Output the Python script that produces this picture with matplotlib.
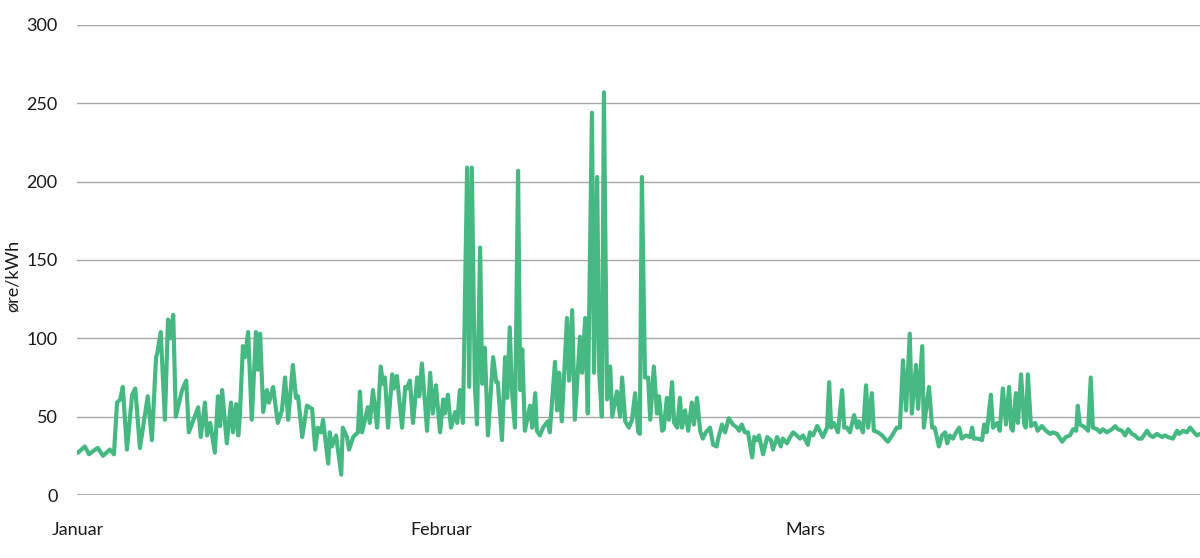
import matplotlib
matplotlib.use("Agg")
import matplotlib.pyplot as plt
import matplotlib.transforms as mtransforms

plt.rcParams['font.family'] = ['Lato', 'DejaVu Sans']

# hour of the quarter (0 = 1 January 00:00) and price in øre/kWh, turning points
hours = [
    0, 2, 15, 23, 35, 40, 50, 63, 71, 77, 83, 88, 96, 106, 112, 121, 136, 144, 152, 154,
    161, 169, 175, 179, 185, 190, 202, 210, 215, 233, 238, 246, 250, 256, 265, 271, 275, 279, 288, 296,
    300, 306, 310, 313, 319, 323, 329, 336, 344, 348, 352, 358, 365, 369, 377, 386, 394, 400, 406, 415,
    421, 425, 433, 442, 452, 458, 463, 469, 473, 483, 486, 490, 498, 508, 511, 519, 523, 531, 540, 544,
    548, 559, 563, 569, 577, 584, 588, 592, 598, 606, 609, 615, 625, 631, 634, 640, 646, 654, 658, 663,
    669, 673, 679, 684, 690, 698, 704, 707, 713, 719, 727, 731, 736, 742, 750, 754, 759, 765, 769, 775,
    779, 784, 790, 800, 806, 809, 817, 823, 827, 832, 836, 842, 848, 852, 856, 861, 871, 875, 881, 884,
    890, 896, 905, 909, 919, 923, 927, 932, 942, 946, 952, 957, 967, 971, 977, 982, 990, 994, 1000, 1004,
    1009, 1013, 1019, 1025, 1029, 1038, 1044, 1048, 1054, 1061, 1067, 1073, 1079, 1082, 1086, 1092, 1098, 1102, 1109, 1115,
    1119, 1125, 1128, 1134, 1138, 1144, 1148, 1154, 1159, 1163, 1169, 1175, 1182, 1186, 1192, 1198, 1203, 1209, 1217, 1223,
    1230, 1232, 1240, 1246, 1253, 1261, 1269, 1273, 1278, 1284, 1290, 1298, 1302, 1307, 1311, 1319, 1327, 1334, 1338, 1346,
    1353, 1357, 1365, 1371, 1377, 1384, 1390, 1396, 1405, 1409, 1415, 1423, 1428, 1434, 1442, 1446, 1450, 1455, 1463, 1471,
    1475, 1480, 1486, 1494, 1500, 1503, 1511, 1517, 1521, 1528, 1532, 1540, 1548, 1553, 1559, 1567, 1576, 1582, 1588, 1594,
    1601, 1605, 1613, 1617, 1625, 1628, 1638, 1644, 1649, 1657, 1663, 1669, 1673, 1678, 1684, 1690, 1696, 1701, 1709, 1717,
    1721, 1724, 1732, 1740, 1744, 1749, 1757, 1761, 1769, 1774, 1780, 1786, 1792, 1796, 1799, 1805, 1809, 1815, 1821, 1824,
    1828, 1834, 1842, 1847, 1855, 1863, 1871, 1876, 1884, 1894, 1901, 1909, 1915, 1921, 1924, 1928, 1934, 1938, 1944, 1949,
    1953, 1961, 1967, 1972, 1980, 1990, 1996, 2001, 2009, 2015, 2021, 2028, 2034, 2040, 2047, 2057, 2063, 2069, 2076, 2086,
    2092, 2097, 2107, 2115, 2119, 2126, 2134, 2140, 2145, 2153, 2159,
]
prices = [
    27, 27, 31, 26, 29, 30, 25, 29, 26, 59, 61, 69, 29, 64, 68, 30, 63, 35, 88, 90,
    104, 48, 112, 100, 115, 50, 67, 73, 40, 56, 37, 59, 38, 46, 27, 63, 44, 67, 33, 59,
    40, 58, 38, 50, 95, 88, 104, 48, 104, 80, 103, 53, 67, 59, 69, 46, 54, 75, 48, 83,
    62, 63, 37, 57, 55, 29, 43, 40, 48, 20, 40, 31, 38, 13, 43, 37, 29, 37, 40, 66,
    40, 56, 46, 67, 43, 82, 71, 75, 43, 77, 68, 76, 43, 69, 68, 73, 46, 75, 63, 84,
    59, 41, 78, 52, 70, 40, 61, 52, 64, 43, 53, 46, 67, 46, 209, 69, 209, 69, 45, 158,
    71, 94, 38, 88, 72, 72, 35, 88, 62, 107, 67, 43, 207, 67, 93, 41, 57, 43, 65, 41,
    38, 43, 47, 40, 85, 54, 78, 47, 113, 73, 118, 48, 101, 78, 113, 52, 244, 78, 203, 78,
    50, 257, 61, 82, 50, 66, 50, 75, 47, 43, 48, 65, 40, 39, 203, 75, 75, 48, 82, 52,
    63, 41, 42, 62, 48, 72, 46, 43, 62, 43, 54, 41, 59, 45, 62, 41, 36, 40, 43, 32,
    31, 35, 45, 40, 49, 45, 43, 41, 45, 40, 40, 24, 37, 35, 38, 26, 37, 35, 29, 37,
    31, 36, 33, 37, 40, 38, 36, 38, 32, 40, 38, 44, 41, 37, 43, 72, 43, 46, 40, 67,
    43, 43, 40, 51, 43, 47, 40, 70, 43, 65, 41, 40, 38, 36, 34, 38, 43, 43, 86, 54,
    103, 52, 83, 55, 95, 43, 69, 43, 43, 31, 38, 40, 33, 38, 36, 40, 43, 36, 38, 37,
    43, 36, 36, 35, 45, 40, 64, 43, 46, 41, 68, 45, 69, 43, 41, 65, 46, 77, 45, 43,
    77, 44, 46, 41, 44, 41, 39, 40, 39, 34, 37, 38, 42, 41, 57, 45, 44, 43, 41, 75,
    43, 42, 40, 42, 40, 42, 44, 42, 41, 38, 42, 39, 38, 36, 36, 41, 38, 37, 39, 37,
    38, 37, 36, 41, 39, 41, 40, 43, 41, 38, 39,
]

month_labels = ['Januar', 'Februar', 'Mars']
month_label_hours = [-48, 640, 1361]
y_ticks = [0, 50, 100, 150, 200, 250, 300]

line_color = '#46b983'
grid_color = '#a8a8a8'

fig = plt.figure(figsize=(12, 5.58), dpi=100)
ax = fig.add_axes([77 / 1200, 1 - 495 / 558, 1 - 77 / 1200, (495 - 25) / 558])

for t in y_ticks:
    ax.axhline(t, color=grid_color, lw=1.3 if t == 0 else 1.0, zorder=1)

ax.plot(hours, prices, color=line_color, lw=3, solid_joinstyle='round', solid_capstyle='round', zorder=3)

ax.set_xlim(0, 2159)
ax.set_ylim(0, 300)
ax.set_yticks(y_ticks)
ax.set_xticks([])
ax.tick_params(axis='y', length=0, pad=14, labelsize=13, colors='#1a1a1a')
for s in ax.spines.values():
    s.set_visible(False)

ax.set_ylabel('øre/kWh', fontsize=13, color='#1a1a1a')
ax.yaxis.set_label_coords(-0.050, 0.466)

trans = mtransforms.blended_transform_factory(ax.transData, ax.transAxes)
for lab, h in zip(month_labels, month_label_hours):
    ax.text(h, -0.075, lab, transform=trans, ha='left', va='center', fontsize=13, color='#1a1a1a',
            clip_on=False)

fig.savefig('out.png', dpi=100)
